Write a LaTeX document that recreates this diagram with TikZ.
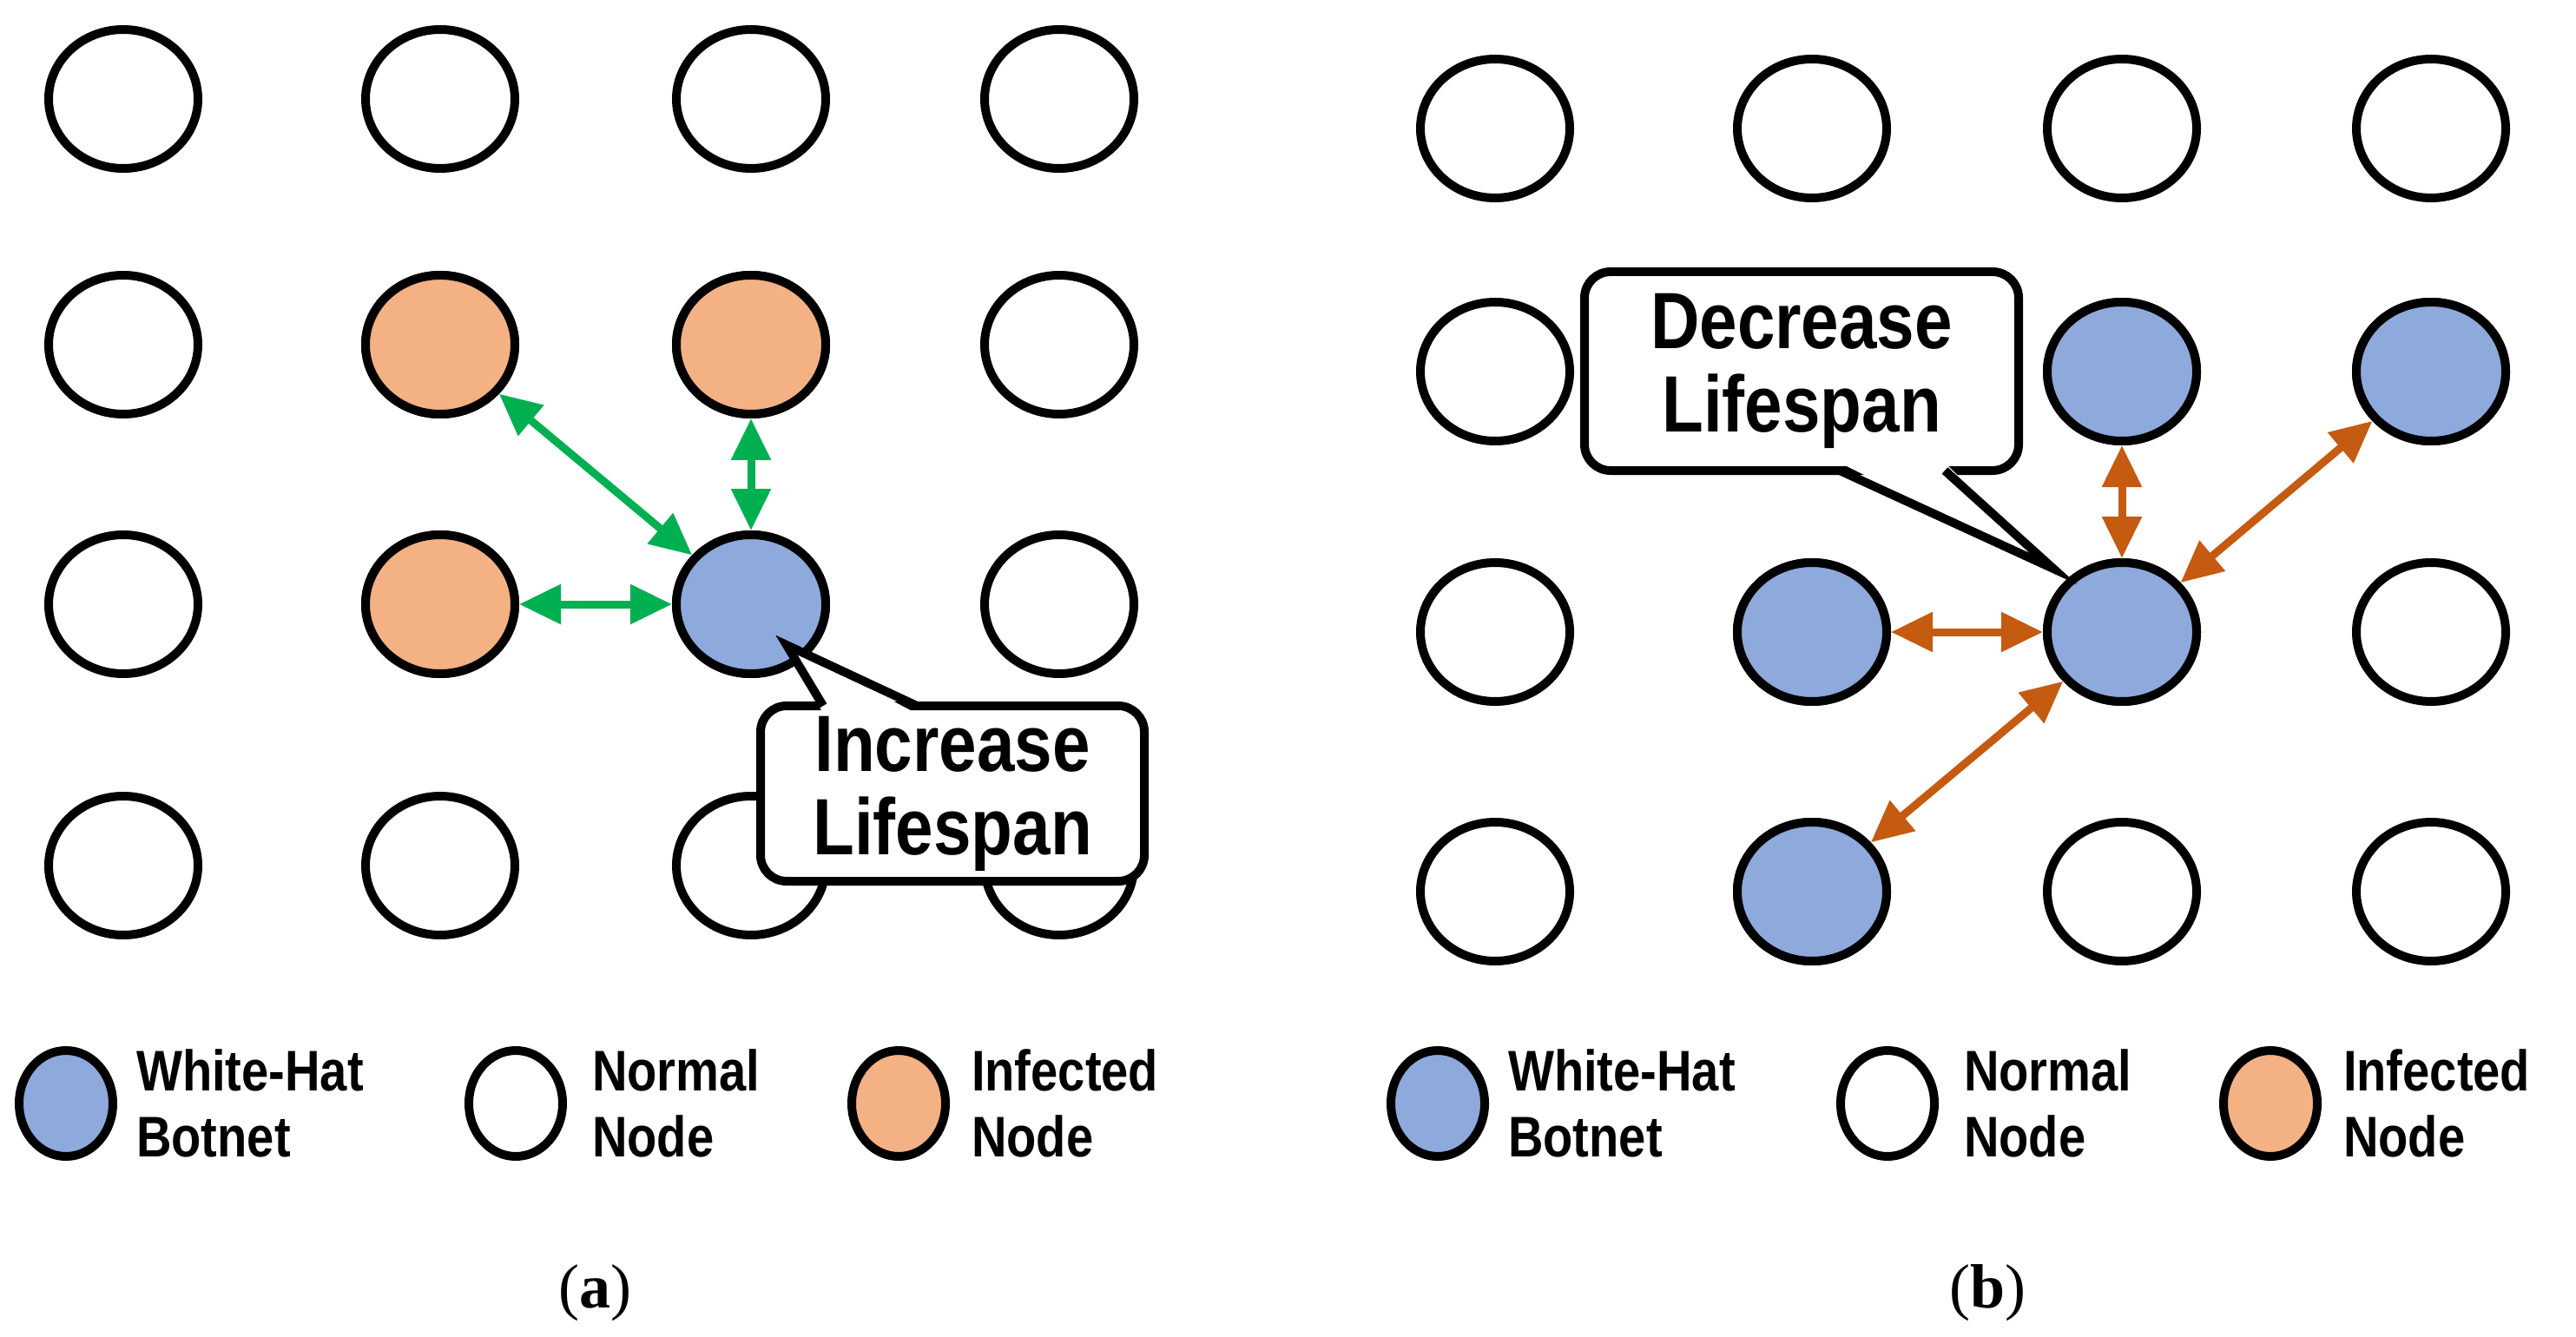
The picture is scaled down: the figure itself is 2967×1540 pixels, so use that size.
\documentclass[tikz,border=0pt]{standalone}
\usepackage{fontspec}
\setmainfont{Liberation Serif}
\newfontfamily\lab[FakeStretch=0.85,BoldFeatures={FakeStretch=0.85}]{Liberation Sans}
\usetikzlibrary{arrows.meta,shapes.geometric}
\definecolor{wb}{HTML}{8EA9DB}
\definecolor{inf}{HTML}{F4B183}
\definecolor{ga}{HTML}{00B050}
\definecolor{oa}{HTML}{C55A11}
\begin{document}
\begin{tikzpicture}[x=0.5pt,y=-0.5pt,
  nd/.style={ellipse,draw,line width=5pt,minimum width=86pt,minimum height=80pt,inner sep=0pt,fill=white},
  lg/.style={ellipse,draw,line width=5pt,minimum width=54pt,minimum height=61pt,inner sep=0pt,fill=white},
  blue/.style={fill=wb}, orng/.style={fill=inf},
  arr/.style={line width=4.5pt,{Triangle[length=24pt,width=22pt]}-{Triangle[length=24pt,width=22pt]}},
  box/.style={draw,fill=white,line width=5pt,rounded corners=15pt},
  call/.style={font=\lab\bfseries\fontsize{46}{48}\selectfont,align=center},
  lt/.style={font=\lab\bfseries\fontsize{33}{38}\selectfont,align=left,anchor=west},
  captxt/.style={font=\fontsize{36}{40}\selectfont}]
\useasboundingbox (0,0) rectangle (2967,1540);
% panel a
\foreach \c/\x in {1/142,2/507,3/865,4/1220}{
 \foreach \r/\y in {1/114,2/397,3/696,4/997}{
  \node[nd] (a\c\r) at (\x,\y) {};}}
\node[nd,orng] at (a22) {};
\node[nd,orng] at (a32) {};
\node[nd,orng] at (a23) {};
\node[nd,blue] at (a33) {};
\draw[arr,ga] (a33) -- (a22);
\draw[arr,ga] (a33) -- (a32);
\draw[arr,ga] (a33) -- (a23);
\draw[box] (876,813) rectangle (1318,1015);
\coordinate (ta) at (906,743);
\fill[white] (948,822) -- (ta) -- (1056,822) -- cycle;
\draw[line width=5pt,line join=miter] (948,813) -- (ta) -- (1056,813);
\node[call] (ca) at (1097,914) {Increase\\Lifespan};
% panel b
\foreach \c/\x in {1/1722,2/2087,3/2444,4/2800}{
 \foreach \r/\y in {1/148,2/428,3/728,4/1027}{
  \node[nd] (b\c\r) at (\x,\y) {};}}
\node[nd,blue] at (b32) {};
\node[nd,blue] at (b42) {};
\node[nd,blue] at (b23) {};
\node[nd,blue] at (b33) {};
\node[nd,blue] at (b24) {};
\draw[arr,oa] (b33) -- (b32);
\draw[arr,oa] (b33) -- (b42);
\draw[arr,oa] (b33) -- (b23);
\draw[arr,oa] (b33) -- (b24);
\draw[box] (1825,313) rectangle (2325,542);
\coordinate (tb) at (2365,655);
\fill[white] (2119,533) -- (tb) -- (2240,533) -- cycle;
\draw[line width=5pt,line join=miter] (2119,542) -- (tb) -- (2240,542);
\node[call] (cb) at (2075,427) {Decrease\\Lifespan};
% legends
\foreach \p/\o in {la/0,lb/1580}{
 \node[lg,blue] (\p1) at (76+\o,1271) {};
 \node[lt] (\p1t) at (150+\o,1271) {White-Hat\\Botnet};
 \node[lg] (\p2) at (594+\o,1271) {};
 \node[lt] (\p2t) at (675+\o,1271) {Normal\\Node};
 \node[lg,orng] (\p3) at (1035+\o,1271) {};
 \node[lt] (\p3t) at (1112+\o,1271) {Infected\\Node};
}
\node[captxt] (capa) at (685,1489) {(\textbf{a})};
\node[captxt] (capb) at (2289,1489) {(\textbf{b})};
\end{tikzpicture}
\end{document}
